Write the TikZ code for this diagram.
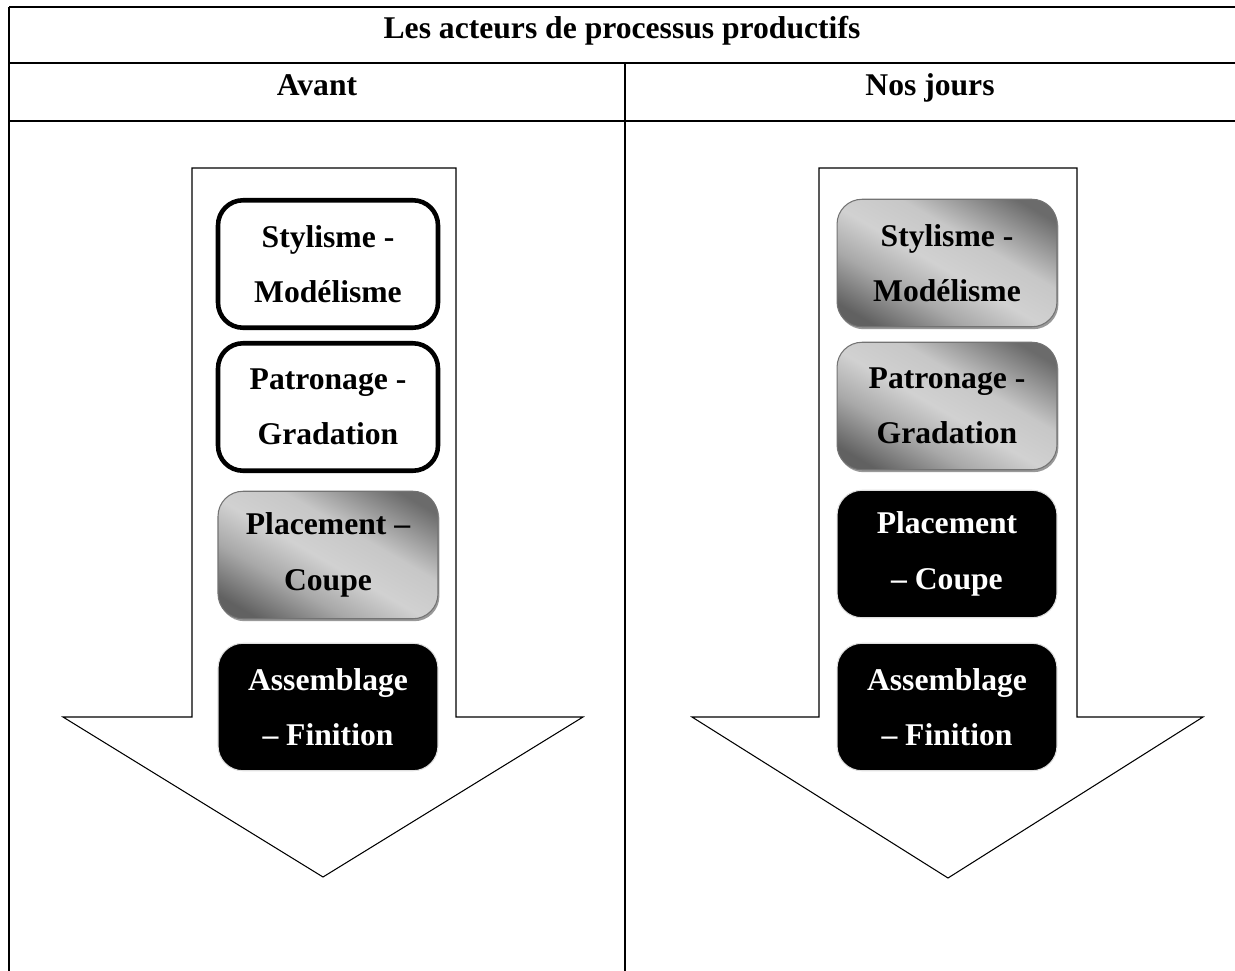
\documentclass[tikz,border=0pt]{standalone}
\usepackage{fontspec}
\setmainfont{Liberation Serif}
\usepackage{tikz}
\usetikzlibrary{shadows}

\pgfdeclarehorizontalshading{gris}{100bp}{color(0bp)=(black!62); color(22bp)=(black!62);
  color(36bp)=(black!34); color(48bp)=(black!18); color(60bp)=(black!22);
  color(78bp)=(black!58); color(100bp)=(black!58)}

\begin{document}
\begin{tikzpicture}[x=0.02cm,y=-0.02cm,
                    grille/.style={line width=1pt},
                    fleche/.style={line width=0.6pt,fill=white},
                    txt/.style={font=\bfseries\fontsize{18}{31.5}\selectfont,align=center},
                    boite/.style={txt,rectangle,rounded corners=0.5cm,
                    minimum width=4.4cm,minimum height=2.55cm},
                    blanc/.style={boite,draw=black,line width=2.6pt,fill=white},
                    degrade/.style={boite,draw=black!55,line width=0.6pt,
                    shading=gris,shading angle=60,
                    preaction={fill=black!40,transform canvas={xshift=0.8pt,yshift=-1.4pt}}},
                    noir/.style={boite,fill=black,draw=black!12,line width=0.6pt,text=white}]
    \useasboundingbox (0,0) rectangle (1235,971);
    % tableau
    \draw[grille] (9,7) -- (1235,7);
    \draw[grille] (9,63) -- (1235,63);
    \draw[grille] (9,121) -- (1235,121);
    \draw[grille] (9,7) -- (9,971);
    \draw[grille] (625,63) -- (625,971);
    \node[txt,anchor=base] (titre) at (622,38) {Les acteurs de processus productifs};
    \node[txt,anchor=base] (avant) at (317,95) {Avant};
    \node[txt,anchor=base] (jours) at (930,95) {Nos jours};
    % fleches
    \draw[fleche] (192,168) -- (456,168) -- (456,717) -- (583,717) -- (323,877)
        -- (63,717) -- (192,717) -- cycle;
    \draw[fleche] (819,168) -- (1077,168) -- (1077,717) -- (1203,717) -- (948,878)
        -- (692,717) -- (819,717) -- cycle;
    % avant
    \node[blanc] (a1) at (328,264) {Stylisme -\\Modélisme};
    \node[blanc] (a2) at (328,407) {Patronage -\\Gradation};
    \node[degrade] (a3) at (328,555) {Placement --\\Coupe};
    \node[noir] (a4) at (328,707) {Assemblage\\-- Finition};
    % nos jours
    \node[degrade] (b1) at (947,263) {Stylisme -\\Modélisme};
    \node[degrade] (b2) at (947,406) {Patronage -\\Gradation};
    \node[noir] (b3) at (947,554) {Placement\\-- Coupe};
    \node[noir] (b4) at (947,707) {Assemblage\\-- Finition};
\end{tikzpicture}
\end{document}
